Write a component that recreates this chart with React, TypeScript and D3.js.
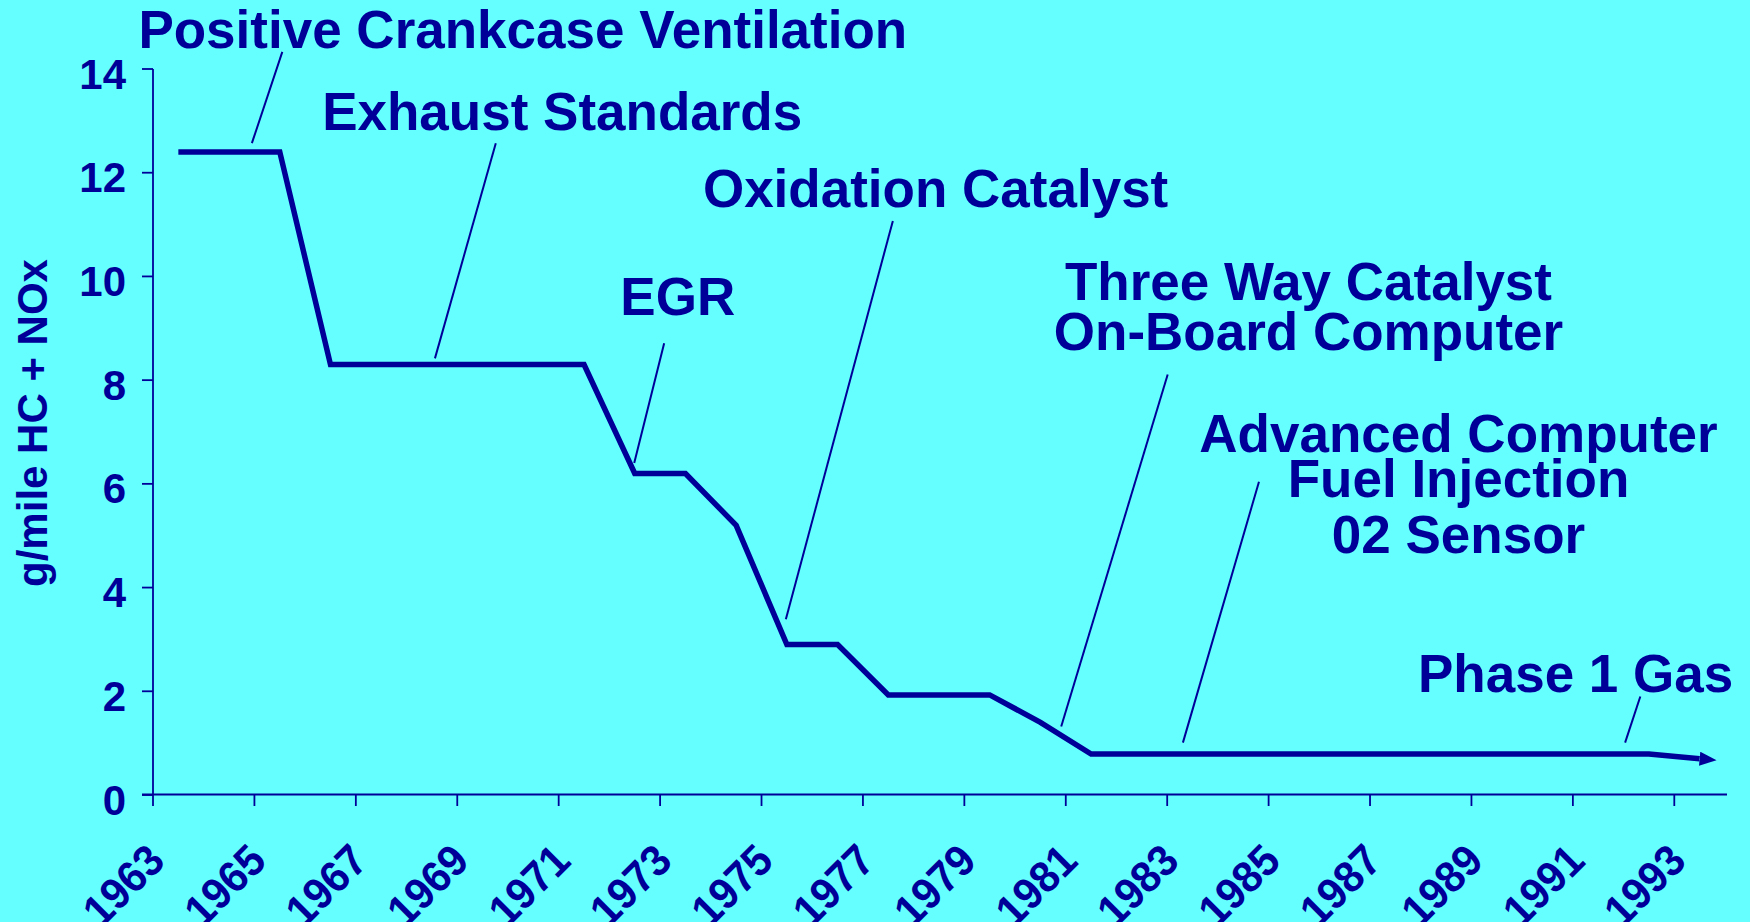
import React from 'react';
import * as d3 from 'd3';

// ---------- data ----------
const years = [
  1963, 1964, 1965, 1966, 1967, 1968, 1969, 1970, 1971, 1972, 1973, 1974, 1975, 1976, 1977, 1978,
  1979, 1980, 1981, 1982, 1983, 1984, 1985, 1986, 1987, 1988, 1989, 1990, 1991, 1992, 1993,
];
const emissions = [
  12.4, 12.4, 12.4, 8.3, 8.3, 8.3, 8.3, 8.3, 8.3, 6.2, 6.2, 5.2, 2.9, 2.9, 1.93, 1.93,
  1.93, 1.4, 0.79, 0.79, 0.79, 0.79, 0.79, 0.79, 0.79, 0.79, 0.79, 0.79, 0.79, 0.79, 0.7,
];
const xTickYears = [1963, 1965, 1967, 1969, 1971, 1973, 1975, 1977, 1979, 1981, 1983, 1985, 1987, 1989, 1991, 1993];
const yTicks = [0, 2, 4, 6, 8, 10, 12, 14];
const yTitle = 'g/mile HC + NOx';

// annotation texts (lines)
const annotationTexts = [
  ['Positive Crankcase Ventilation'],
  ['Exhaust Standards'],
  ['EGR'],
  ['Oxidation Catalyst'],
  ['Three Way Catalyst', 'On-Board Computer'],
  ['Advanced Computer', 'Fuel Injection', '02 Sensor'],
  ['Phase 1 Gas'],
];
// leader lines in data units: [yearFrom, valueFrom, yearTo, valueTo] (year = band left-edge units)
const leaders = [
  [1965.55, 14.33, 1964.95, 12.57],
  [1969.76, 12.57, 1968.56, 8.42],
  [1973.08, 8.71, 1972.49, 6.4],
  [1977.59, 11.07, 1975.48, 3.39],
  [1983.01, 8.11, 1980.91, 1.32],
  [1984.81, 6.04, 1983.31, 1.01],
  [1992.33, 1.9, 1992.03, 1.01],
];

// ---------- layout ----------
const W = 1750;
const H = 922;
const plot = { left: 153, right: 1725, top: 69, bottom: 795 };
const BG = '#66FFFF';
const NAVY = '#000099';
const FONT = '"Liberation Sans", Arial, Helvetica, sans-serif';
// annotation text layout: center x, baselines
const annotationLayout = [
  { cx: 522.8, ys: [47.7] },
  { cx: 562.2, ys: [130] },
  { cx: 677.8, ys: [315] },
  { cx: 935.6, ys: [206.7] },
  { cx: 1308.5, ys: [300, 350] },
  { cx: 1458.5, ys: [451.7, 496.7, 553.3] },
  { cx: 1575.6, ys: [691.7] },
];

export default function App() {
  const x = d3.scaleBand<number>().domain(years).range([plot.left, plot.right]).padding(0);
  const bw = x.bandwidth();
  const xLin = d3
    .scaleLinear()
    .domain([years[0], years[years.length - 1] + 1])
    .range([plot.left, plot.right]);
  const y = d3.scaleLinear().domain([0, 14]).range([plot.bottom, plot.top]);

  const line = d3
    .line<number>()
    .x((_, i) => (x(years[i]) as number) + bw / 2)
    .y((d) => y(d));

  return (
    <svg
      width={W}
      height={H}
      style={{ position: 'absolute', left: 0, top: 0, display: 'block' }}
      xmlns="http://www.w3.org/2000/svg"
    >
      <defs>
        <marker
          id="arrow"
          markerUnits="userSpaceOnUse"
          viewBox="0 0 17 14"
          refX={0}
          refY={7}
          markerWidth={17}
          markerHeight={14}
          orient="auto"
        >
          <path d="M0,0 L17,7 L0,14 Z" fill={NAVY} />
        </marker>
      </defs>
      <rect x={0} y={0} width={W} height={H} fill={BG} />

      {/* y axis */}
      <line x1={plot.left} x2={plot.left} y1={plot.top} y2={plot.bottom} stroke={NAVY} strokeWidth={1.8} />
      {yTicks.map((t) => (
        <g key={'y' + t}>
          <line x1={plot.left - 11} x2={plot.left} y1={y(t)} y2={y(t)} stroke={NAVY} strokeWidth={1.8} />
          <text
            x={plot.left - 27}
            y={y(t) + 19.5}
            textAnchor="end"
            fontFamily={FONT}
            fontWeight="bold"
            fontSize={42}
            fill={NAVY}
          >
            {t}
          </text>
        </g>
      ))}
      <text
        transform={`translate(47,423) rotate(-90)`}
        textAnchor="middle"
        fontFamily={FONT}
        fontWeight="bold"
        fontSize={42}
        fill={NAVY}
      >
        {yTitle}
      </text>

      {/* x axis */}
      <line
        x1={plot.left - 11}
        x2={plot.right + 2}
        y1={plot.bottom - 0.5}
        y2={plot.bottom - 0.5}
        stroke={NAVY}
        strokeWidth={2.2}
      />
      {xTickYears.map((yr) => {
        const tx = x(yr) as number;
        return (
          <g key={'x' + yr}>
            <line x1={tx} x2={tx} y1={plot.bottom} y2={plot.bottom + 11} stroke={NAVY} strokeWidth={1.8} />
            <text
              transform={`translate(${tx + 14},863) rotate(-45) scale(0.95,1)`}
              textAnchor="end"
              fontFamily={FONT}
              fontWeight="bold"
              fontSize={44}
              fill={NAVY}
            >
              {yr}
            </text>
          </g>
        );
      })}

      {/* data line */}
      <path
        d={line(emissions) || ''}
        fill="none"
        stroke={NAVY}
        strokeWidth={5.5}
        strokeLinejoin="miter"
        strokeLinecap="butt"
        markerEnd="url(#arrow)"
      />

      {/* leader lines */}
      {leaders.map((l, i) => (
        <line
          key={'l' + i}
          x1={xLin(l[0])}
          y1={y(l[1])}
          x2={xLin(l[2])}
          y2={y(l[3])}
          stroke={NAVY}
          strokeWidth={2}
        />
      ))}

      {/* annotation texts */}
      {annotationTexts.map((lines, i) => (
        <text
          key={'a' + i}
          textAnchor="middle"
          fontFamily={FONT}
          fontWeight="bold"
          fontSize={53}
          fill={NAVY}
        >
          {lines.map((s, j) => (
            <tspan key={j} x={annotationLayout[i].cx} y={annotationLayout[i].ys[j]}>
              {s}
            </tspan>
          ))}
        </text>
      ))}
    </svg>
  );
}
